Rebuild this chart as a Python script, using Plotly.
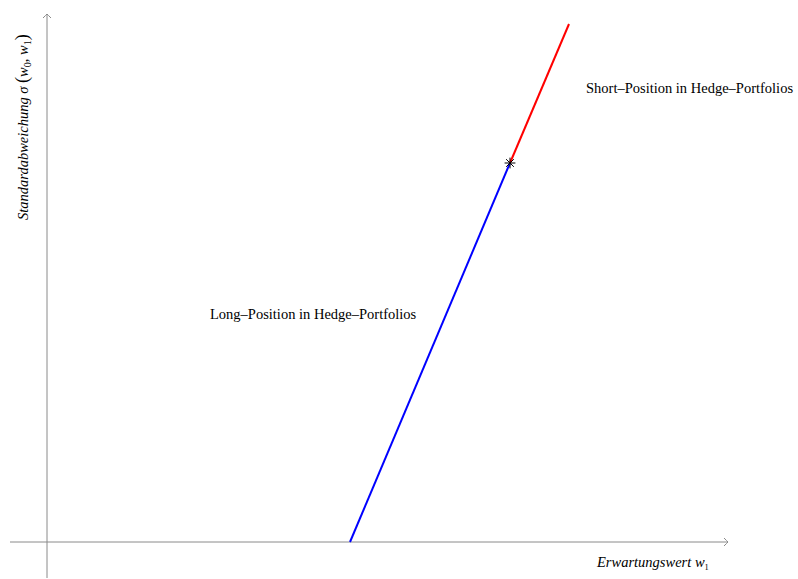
import plotly.graph_objects as go

# Efficient line: long hedge segment (blue) and short hedge segment (red)
long_w1 = [3.03, 4.63]
long_sigma = [0.0, 3.79]
short_w1 = [4.63, 5.22]
short_sigma = [3.79, 5.18]
tangent_w1 = [4.63]
tangent_sigma = [3.79]

# Axis extents (data units)
x_axis_span = [-0.37, 6.81]
y_axis_span = [-0.36, 5.28]

label_long = "Long–Position in Hedge–Portfolios"
label_short = "Short–Position in Hedge–Portfolios"
x_title = "<i>Erwartungswert w</i><span style='font-size:12px'><sub>1</sub></span>"
y_title = ("<i>Standardabweichung σ </i><span style='font-size:18px'>(</span>"
           "<i>w</i><sub>0</sub>, <i>w</i><sub>1</sub><span style='font-size:18px'>)</span>")

FONT = "Liberation Serif"
AXIS_GREY = "#8a8a8a"

fig = go.Figure()

# axis lines
fig.add_trace(go.Scatter(x=x_axis_span, y=[0, 0], mode="lines",
                         line=dict(color=AXIS_GREY, width=1), hoverinfo="skip"))
fig.add_trace(go.Scatter(x=[0, 0], y=y_axis_span, mode="lines",
                         line=dict(color=AXIS_GREY, width=1), hoverinfo="skip"))

fig.add_trace(go.Scatter(x=long_w1, y=long_sigma, mode="lines",
                         line=dict(color="#0000ff", width=2)))
fig.add_trace(go.Scatter(x=short_w1, y=short_sigma, mode="lines",
                         line=dict(color="#ff0000", width=2)))
fig.add_trace(go.Scatter(x=tangent_w1, y=tangent_sigma, mode="markers",
                         marker=dict(symbol="asterisk-open", size=9, color="#000000",
                                     line=dict(color="#000000", width=1))))

# open chevron arrow heads at the axis ends, sized in pixels
fig.add_shape(type="path", xref="x", yref="y", xsizemode="pixel", ysizemode="pixel",
              xanchor=x_axis_span[1], yanchor=0,
              path="M -4,4 Q -1,1 0,0 Q -1,-1 -4,-4",
              line=dict(color=AXIS_GREY, width=1))
fig.add_shape(type="path", xref="x", yref="y", xsizemode="pixel", ysizemode="pixel",
              xanchor=0, yanchor=y_axis_span[1],
              path="M -4,-4 Q -1,-1 0,0 Q 1,-1 4,-4",
              line=dict(color=AXIS_GREY, width=1))

fig.add_annotation(x=2.66, y=2.28, text=label_long, showarrow=False,
                   font=dict(family=FONT, size=14.5, color="#000"))
fig.add_annotation(x=6.425, y=4.54, text=label_short, showarrow=False,
                   font=dict(family=FONT, size=14.5, color="#000"))
fig.add_annotation(x=6.05, y=-0.21, text=x_title, showarrow=False,
                   font=dict(family=FONT, size=14.5, color="#000"))
fig.add_annotation(x=-0.25, y=4.15, text=y_title, showarrow=False, textangle=-90,
                   font=dict(family=FONT, size=14.5, color="#000"))

fig.update_layout(
    width=798, height=579,
    margin=dict(l=0, r=0, t=0, b=0),
    paper_bgcolor="white", plot_bgcolor="white",
    showlegend=False,
    xaxis=dict(range=[-0.47, 7.51], visible=False, fixedrange=True),
    yaxis=dict(range=[-0.37, 5.42], visible=False, fixedrange=True),
)

fig.write_html("out.html")
